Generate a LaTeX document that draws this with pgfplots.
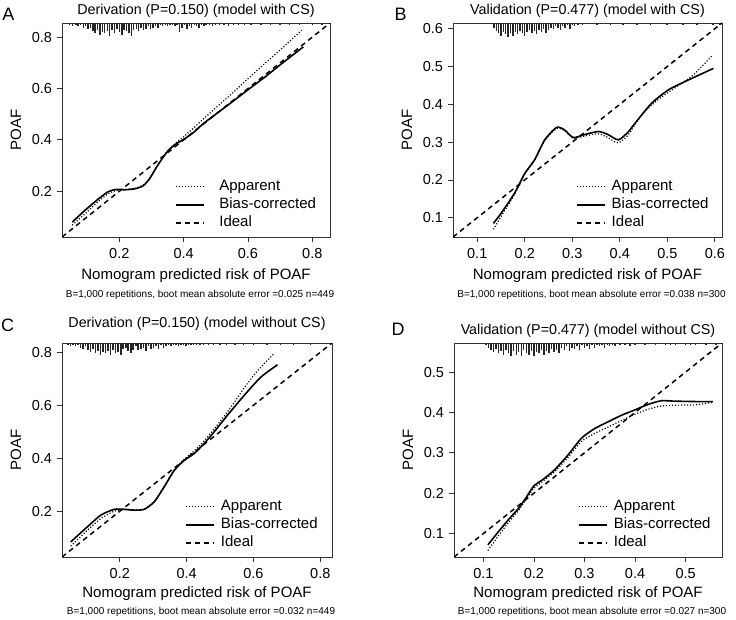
\documentclass[border=0pt]{standalone}
\usepackage{fontspec}
\setmainfont{Liberation Sans}
\usepackage{pgfplots}
\usepackage{pgfplotstable}
\pgfplotsset{compat=1.18}
\newcommand{\fs}[1]{\fontsize{#1bp}{#1bp}\selectfont}

\pgfplotstableread{
x h
0.045 2
0.055 3
0.065 2
0.072 3
0.080 2
0.088 4
0.095 3
0.103 5
0.110 4
0.118 7
0.125 9
0.133 6
0.140 10
0.148 8
0.155 9
0.163 7
0.170 11
0.178 6
0.185 9
0.193 5
0.200 8
0.208 10
0.215 6
0.223 7
0.230 9
0.238 11
0.245 6
0.253 5
0.260 7
0.268 4
0.275 6
0.283 5
0.290 3
0.298 5
0.305 4
0.313 3
0.320 4
0.328 2
0.335 3
0.343 2
0.350 3
0.358 2
0.365 2
0.373 3
0.380 2
0.388 8
0.395 4
0.403 2
0.410 5
0.418 3
0.425 4
0.433 2
0.440 3
0.448 4
0.455 2
0.463 3
0.470 2
0.480 2
0.490 3
0.500 2
0.512 2
0.525 2
0.540 3
0.555 2
0.570 2
0.590 2
0.610 1.5
0.640 1.5
0.670 1.5
0.700 1.5
0.730 1.5
0.760 1.5
0.800 1.5
0.830 1.5
}\rugA

\pgfplotstableread{
x h
0.135 4
0.140 7
0.145 9
0.150 11
0.155 8
0.160 10
0.165 12
0.170 9
0.175 11
0.180 8
0.185 10
0.190 7
0.195 9
0.200 11
0.205 8
0.210 6
0.215 9
0.220 7
0.225 10
0.230 6
0.235 8
0.240 5
0.245 9
0.250 6
0.255 4
0.260 5
0.265 3
0.270 4
0.275 6
0.280 3
0.285 4
0.290 2
0.295 5
0.300 2
0.305 3
0.312 2
0.322 2
0.352 2
0.380 2
0.407 2
0.436 2
0.464 2
0.499 2
0.533 2
0.562 2
0.596 2
0.611 2
}\rugB

\pgfplotstableread{
x h
0.045 2
0.052 3
0.060 2
0.068 3
0.075 2
0.083 4
0.090 5
0.098 3
0.105 6
0.113 8
0.120 5
0.128 9
0.135 7
0.143 10
0.150 8
0.158 9
0.165 7
0.173 10
0.180 6
0.188 9
0.195 8
0.203 10
0.210 5
0.218 4
0.225 7
0.233 9
0.240 6
0.248 3
0.255 6
0.263 5
0.270 4
0.278 7
0.285 3
0.293 5
0.300 4
0.308 3
0.315 5
0.323 2
0.330 4
0.338 3
0.345 2
0.353 3
0.360 2
0.368 2
0.375 3
0.383 2
0.390 2
0.398 3
0.405 2
0.413 2
0.420 1.5
0.430 2
0.440 1.5
0.450 2
0.465 1.5
0.480 1.5
0.500 1.5
0.520 1.5
0.545 1.5
0.570 1.5
0.600 1.5
0.640 1.5
0.680 1.5
0.720 1.5
0.770 1.5
}\rugC

\pgfplotstableread{
x h
0.105 2
0.110 4
0.115 6
0.120 8
0.125 5
0.130 9
0.135 7
0.140 10
0.145 6
0.150 9
0.155 11
0.160 7
0.165 10
0.170 8
0.175 11
0.180 6
0.185 9
0.190 10
0.195 7
0.200 11
0.205 8
0.210 9
0.215 6
0.220 10
0.225 7
0.230 9
0.235 5
0.240 8
0.245 6
0.250 9
0.255 4
0.260 6
0.265 3
0.270 7
0.275 4
0.280 5
0.285 3
0.290 6
0.295 2
0.300 4
0.305 3
0.310 5
0.315 2
0.320 4
0.325 2
0.330 3
0.335 2
0.340 4
0.345 2
0.350 3
0.355 2
0.360 3
0.370 2
0.380 2
0.390 3
0.400 2
0.420 1.5
0.440 1.5
0.460 1.5
0.470 1.5
0.480 1.5
0.500 1.5
0.510 1.5
0.520 1.5
0.540 1.5
0.560 1.5
}\rugD

\pgfplotsset{
  calib/.style={
    scale only axis, height=214bp,
    axis line style={line width=0.8bp, black!80},
    tick align=outside, tick pos=left,
    major tick length=5bp,
    tick style={line width=0.8bp, black!80},
    ticklabel style={font=\fs{14.5}},
    /pgf/number format/assume math mode=true,
    xticklabel style={yshift=-3bp},
    yticklabel style={xshift=-1.5bp},
    clip=true,
    legend style={draw=none, fill=none, font=\fs{15}, legend cell align=left,
      row sep=3bp, inner sep=0bp,
      nodes={inner sep=0bp, text height=11bp, text depth=4bp},
      /tikz/every odd column/.append style={column sep=#1}},
    legend image code/.code={\draw[##1] (0bp,0bp) -- (28bp,0bp);},
  },
  app/.style={black, line width=1.2bp, dash pattern=on 1.1bp off 1.9bp},
  bc/.style={black, line width=1.6bp},
  ideal/.style={black, line width=1.5bp, dash pattern=on 5bp off 4bp},
  rug/.style={black!85, line width=1.4bp, forget plot, mark=none, quiver={u=0, v=-1.15*\thisrow{h}/#1}},
}

\begin{document}
\begin{tikzpicture}
\path[use as bounding box] (0,0) rectangle (736bp,-620bp);

% ---------------- A ----------------
\begin{axis}[calib=15bp, name=A, at={(62bp,-237bp)}, anchor=south west, width=268bp,
  xmin=0.022, xmax=0.855, ymin=0.022, ymax=0.855,
  xtick={0.2,0.4,0.6,0.8}, xticklabels={0.2,0.4,0.6,0.8},
  ytick={0.2,0.4,0.6,0.8}, yticklabels={0.2,0.4,0.6,0.8},
  legend style={at={(0.42,0.03)}, anchor=south west}]
\addplot[rug=256.7] table[x=x, y expr=0.855] {\rugA};
\addplot[app, smooth, tension=0.4] coordinates {(0.054,0.068)(0.09,0.108)(0.13,0.155)(0.165,0.190)(0.19,0.203)(0.22,0.207)(0.25,0.212)(0.275,0.225)(0.295,0.252)(0.315,0.293)(0.335,0.332)(0.352,0.360)(0.375,0.388)(0.40,0.412)(0.43,0.445)(0.46,0.480)(0.50,0.525)(0.55,0.580)(0.60,0.638)(0.65,0.695)(0.70,0.750)(0.767,0.827)};
\addlegendentry{Apparent}
\addplot[bc, smooth, tension=0.4] coordinates {(0.054,0.080)(0.09,0.122)(0.13,0.165)(0.165,0.198)(0.19,0.207)(0.22,0.206)(0.25,0.210)(0.275,0.222)(0.295,0.250)(0.315,0.292)(0.335,0.330)(0.352,0.358)(0.375,0.383)(0.40,0.402)(0.43,0.428)(0.46,0.462)(0.50,0.500)(0.55,0.547)(0.60,0.595)(0.65,0.642)(0.70,0.692)(0.772,0.762)};
\addlegendentry{Bias-corrected}
\addplot[ideal] coordinates {(0.022,0.022)(0.855,0.855)};
\addlegendentry{Ideal}
\end{axis}

% ---------------- B ----------------
\begin{axis}[calib=6bp, name=B, at={(453bp,-237bp)}, anchor=south west, width=269bp,
  xmin=0.049, xmax=0.615, ymin=0.049, ymax=0.615,
  xtick={0.1,0.2,0.3,0.4,0.5,0.6}, xticklabels={0.1,0.2,0.3,0.4,0.5,0.6},
  ytick={0.1,0.2,0.3,0.4,0.5,0.6}, yticklabels={0.1,0.2,0.3,0.4,0.5,0.6},
  legend style={at={(0.457,0.03)}, anchor=south west}]
\addplot[rug=378] table[x=x, y expr=0.615] {\rugB};
\addplot[app, smooth, tension=0.4] coordinates {(0.134,0.069)(0.151,0.105)(0.179,0.163)(0.200,0.216)(0.221,0.252)(0.242,0.304)(0.267,0.336)(0.284,0.330)(0.302,0.310)(0.326,0.316)(0.354,0.322)(0.375,0.312)(0.396,0.298)(0.417,0.318)(0.445,0.370)(0.48,0.412)(0.52,0.447)(0.555,0.478)(0.593,0.527)};
\addlegendentry{Apparent}
\addplot[bc, smooth, tension=0.4] coordinates {(0.134,0.085)(0.151,0.113)(0.179,0.166)(0.200,0.217)(0.221,0.254)(0.242,0.306)(0.267,0.339)(0.284,0.332)(0.302,0.312)(0.326,0.320)(0.355,0.328)(0.375,0.320)(0.397,0.306)(0.417,0.326)(0.432,0.350)(0.467,0.403)(0.502,0.438)(0.537,0.460)(0.597,0.495)};
\addlegendentry{Bias-corrected}
\addplot[ideal] coordinates {(0.049,0.049)(0.615,0.615)};
\addlegendentry{Ideal}
\end{axis}

% ---------------- C ----------------
\begin{axis}[calib=6bp, name=C, at={(62bp,-557bp)}, anchor=south west, width=270bp,
  xmin=0.027, xmax=0.835, ymin=0.027, ymax=0.835,
  xtick={0.2,0.4,0.6,0.8}, xticklabels={0.2,0.4,0.6,0.8},
  ytick={0.2,0.4,0.6,0.8}, yticklabels={0.2,0.4,0.6,0.8},
  legend style={at={(0.456,0.03)}, anchor=south west}]
\addplot[rug=264.9] table[x=x, y expr=0.835] {\rugC};
\addplot[app, smooth, tension=0.4] coordinates {(0.053,0.068)(0.103,0.128)(0.143,0.172)(0.183,0.200)(0.213,0.206)(0.243,0.205)(0.273,0.208)(0.303,0.237)(0.333,0.295)(0.363,0.357)(0.393,0.396)(0.422,0.427)(0.452,0.465)(0.482,0.510)(0.512,0.558)(0.542,0.610)(0.572,0.665)(0.602,0.715)(0.632,0.757)(0.662,0.795)};
\addlegendentry{Apparent}
\addplot[bc, smooth, tension=0.4] coordinates {(0.053,0.084)(0.103,0.141)(0.143,0.185)(0.183,0.207)(0.213,0.207)(0.243,0.204)(0.273,0.207)(0.303,0.235)(0.333,0.292)(0.363,0.354)(0.393,0.392)(0.422,0.417)(0.452,0.455)(0.482,0.499)(0.522,0.562)(0.572,0.637)(0.622,0.706)(0.672,0.753)};
\addlegendentry{Bias-corrected}
\addplot[ideal] coordinates {(0.027,0.027)(0.835,0.835)};
\addlegendentry{Ideal}
\end{axis}

% ---------------- D ----------------
\begin{axis}[calib=6bp, name=D, at={(454bp,-557bp)}, anchor=south west, width=268bp,
  xmin=0.042, xmax=0.572, ymin=0.042, ymax=0.572,
  xtick={0.1,0.2,0.3,0.4,0.5}, xticklabels={0.1,0.2,0.3,0.4,0.5},
  ytick={0.1,0.2,0.3,0.4,0.5}, yticklabels={0.1,0.2,0.3,0.4,0.5},
  legend style={at={(0.463,0.03)}, anchor=south west}]
\addplot[rug=403.8] table[x=x, y expr=0.572] {\rugD};
\addplot[app, smooth, tension=0.4] coordinates {(0.109,0.058)(0.13,0.095)(0.15,0.128)(0.17,0.158)(0.185,0.186)(0.200,0.212)(0.221,0.233)(0.241,0.253)(0.267,0.288)(0.294,0.328)(0.32,0.348)(0.347,0.364)(0.373,0.380)(0.399,0.395)(0.426,0.408)(0.452,0.416)(0.478,0.418)(0.52,0.419)(0.554,0.425)};
\addlegendentry{Apparent}
\addplot[bc, smooth, tension=0.4] coordinates {(0.109,0.072)(0.13,0.105)(0.15,0.135)(0.17,0.163)(0.185,0.190)(0.200,0.218)(0.221,0.237)(0.241,0.258)(0.267,0.294)(0.294,0.336)(0.32,0.360)(0.347,0.377)(0.373,0.393)(0.399,0.406)(0.426,0.420)(0.452,0.429)(0.478,0.428)(0.52,0.427)(0.554,0.427)};
\addlegendentry{Bias-corrected}
\addplot[ideal] coordinates {(0.042,0.042)(0.572,0.572)};
\addlegendentry{Ideal}
\end{axis}

% ---------------- texts ----------------
\foreach \p/\t/\ty/\xl/\sy/\sub in {
  A/{Derivation (P=0.150) (model with CS)}/12.5/39/58/{B=1,000 repetitions, boot mean absolute error =0.025 n=449},
  B/{Validation (P=0.477) (model with CS)}/12.5/39/58/{B=1,000 repetitions, boot mean absolute error =0.038 n=300},
  C/{Derivation (P=0.150) (model without CS)}/19/37/55/{B=1,000 repetitions, boot mean absolute error =0.032 n=449},
  D/{Validation (P=0.477) (model without CS)}/12.5/37/55/{B=1,000 repetitions, boot mean absolute error =0.027 n=300}}{
  \node[font=\fs{14.3}, anchor=center] at ([yshift=\ty bp]\p.north) {\t};
  \node[font=\fs{15}, anchor=center] at ([yshift=-\xl bp]\p.south) {Nomogram predicted risk of POAF};
  \node[font=\fs{10}, anchor=center] at ([yshift=-\sy bp, xshift=4bp]\p.south) {\sub};
  \node[font=\fs{15}, rotate=90, anchor=center] at ([xshift=-46bp]\p.west) {POAF};
}
\node[font=\fs{18}] at (8.5bp,-14.5bp) {A};
\node[font=\fs{18}] at (400.5bp,-14bp) {B};
\node[font=\fs{18}] at (7.5bp,-325bp) {C};
\node[font=\fs{18}] at (398bp,-329bp) {D};
\end{tikzpicture}
\end{document}
